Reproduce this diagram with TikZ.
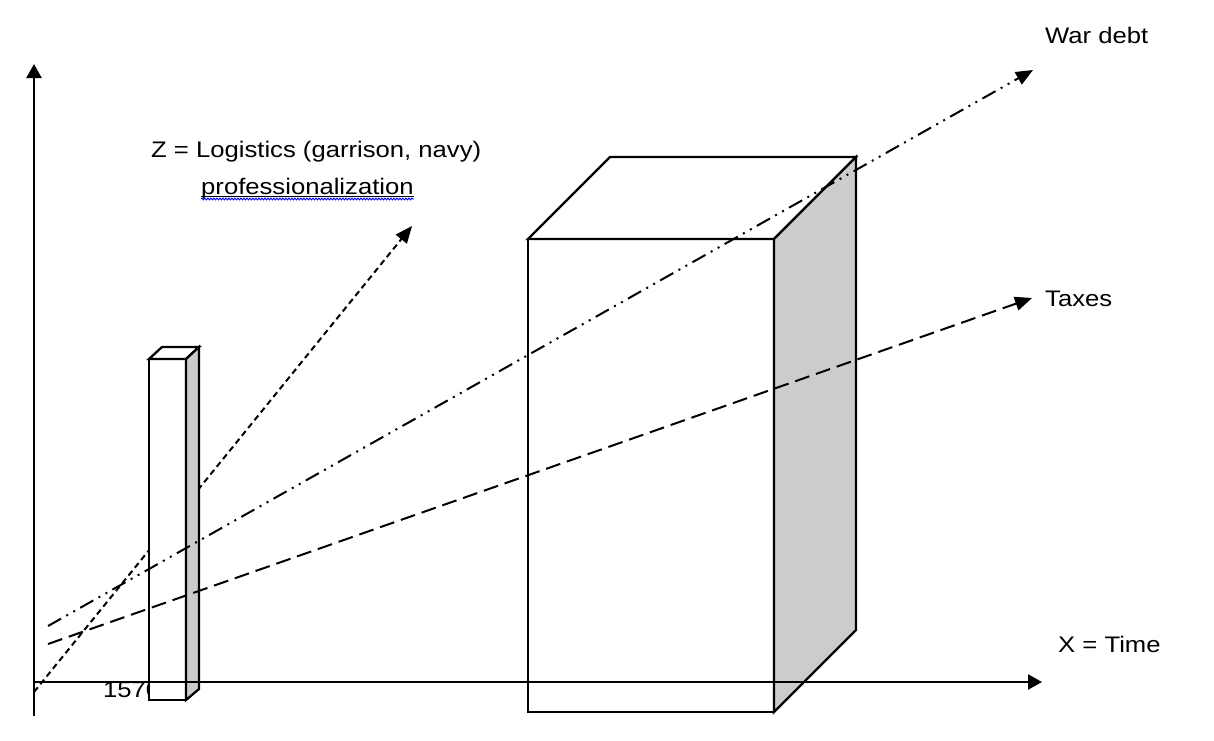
\documentclass[tikz,border=0pt]{standalone}
\usepackage{fontspec}
\setmainfont{Liberation Sans}[FakeStretch=1.14]
\usetikzlibrary{arrows.meta,decorations.pathmorphing}
\definecolor{sidegray}{HTML}{CCCCCC}
\tikzset{
  edge/.style={line width=2.3pt, line join=miter},
  tip/.style={-{Triangle[length=17pt,width=14pt]}},
  axis/.style={line width=2.3pt, -{Triangle[length=14pt,width=15pt]}},
  zline/.style={line width=2pt, dash pattern=on 6pt off 4pt, tip},
  debtline/.style={line width=2pt, dash pattern=on 15pt off 6pt on 2pt off 6pt on 2pt off 6pt, tip},
  taxline/.style={line width=2pt, dash pattern=on 15pt off 7pt, tip},
  lbl/.style={inner sep=0pt, anchor=base west, font=\fontsize{22.5}{26}\selectfont},
}
\begin{document}
\begin{tikzpicture}[x=1pt,y=-1pt]
\useasboundingbox (0,0) rectangle (1214,740);
% coordinates
\coordinate (origin) at (34,682);
\coordinate (ytip) at (34,64);
\coordinate (ybot) at (34,716);
\coordinate (xtip) at (1042,682);
\coordinate (zs) at (34,692);
\coordinate (ze) at (412,226);
\coordinate (ds) at (48,626);
\coordinate (de) at (1033,70);
\coordinate (ts) at (48,644);
\coordinate (te) at (1032,298);
% Z line (behind bar)
\draw[zline] (zs) -- (ze);
% 1570 label
\node[lbl] (year) at (103,697) {1570};
% small bar
\draw[edge, fill=white] (149,359) rectangle (186,700);
\draw[edge, fill=white] (149,359) -- (162,347) -- (199,347) -- (186,359) -- cycle;
\draw[edge, fill=sidegray] (186,359) -- (199,347) -- (199,689) -- (186,700) -- cycle;
% big box
\draw[edge, fill=white] (528,239) rectangle (774,712);
\draw[edge, fill=white] (528,239) -- (610,157) -- (856,157) -- (774,239) -- cycle;
\draw[edge, fill=sidegray] (774,239) -- (856,157) -- (856,630) -- (774,712) -- cycle;
% axes
\draw[axis] (ybot) -- (ytip);
\draw[axis] (origin) -- (xtip);
% lines
\draw[debtline] (ds) -- (de);
\draw[taxline] (ts) -- (te);
% labels
\node[lbl] (debt) at (1045,43) {War debt};
\node[lbl] (taxes) at (1045,306) {Taxes};
\node[lbl] (time) at (1058,652) {X = Time};
\node[lbl] (zlab) at (151,157) {Z = Logistics (garrison, navy)};
\node[lbl] (prof) at (201,194) {professionalization};
\draw[line width=1.2pt] (prof.base west) ++(0,2.5) -- ([yshift=-2.5pt]prof.base east);
\draw[blue, line width=0.9pt, decorate, decoration={snake, amplitude=0.9pt, segment length=3pt}] (prof.base west) ++(0,5) -- ([yshift=-5pt]prof.base east);
\end{tikzpicture}
\end{document}
